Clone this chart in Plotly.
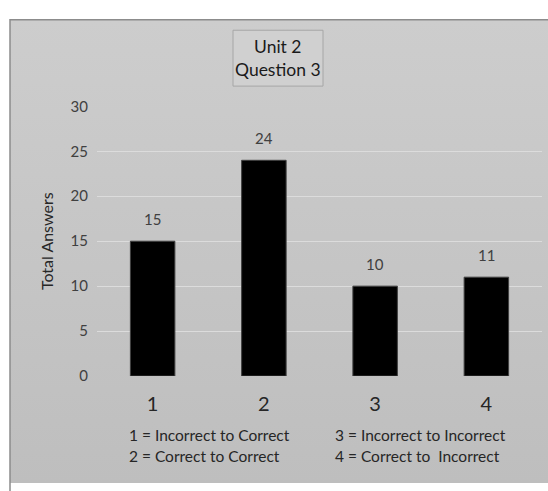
import base64
import plotly.graph_objects as go

categories = ["1", "2", "3", "4"]
values = [15, 24, 10, 11]
y_ticks = [0, 5, 10, 15, 20, 25, 30]
title_lines = ["Unit 2", "Question 3"]
key_left = ["1 = Incorrect to Correct", "2 = Correct to Correct"]
key_right = ["3 = Incorrect to Incorrect", "4 = Correct to  Incorrect"]

W, H = 548, 491
FONT = "Lato, 'Open Sans', sans-serif"

def px(x):
    return x / W

def py(y):
    return 1 - y / H

svg = ('<svg xmlns="http://www.w3.org/2000/svg" width="100" height="100" preserveAspectRatio="none">'
       '<defs><linearGradient id="g" x1="0" y1="0" x2="0" y2="1">'
       '<stop offset="0" stop-color="#cdcdcd"/><stop offset="1" stop-color="#bebebe"/>'
       '</linearGradient></defs><rect width="100" height="100" fill="url(#g)"/></svg>')
svg_uri = "data:image/svg+xml;base64," + base64.b64encode(svg.encode()).decode()

fig = go.Figure()
fig.add_trace(go.Bar(
    x=categories, y=values, width=0.4,
    marker=dict(color="#000000", line=dict(color="#404040", width=1)),
))

annotations = []
# value labels above bars (category index, data value)
for i, v in enumerate(values):
    annotations.append(dict(text=str(v), x=i, y=v, xref="x", yref="y", showarrow=False,
                            yanchor="middle", yshift=22,
                            font=dict(family=FONT, size=15, color="#404040")))
annotations.append(dict(
    text="<br>".join(title_lines), x=px(278), y=py(50), xref="paper", yref="paper",
    showarrow=False, font=dict(family=FONT, size=17.5, color="#1a1a1a"),
    xanchor="center", yanchor="middle",
))
for i, t in enumerate(key_left):
    annotations.append(dict(text=t, x=px(127), y=py(441 + 22 * i), xref="paper", yref="paper",
                            showarrow=False, xanchor="left", yanchor="middle",
                            font=dict(family=FONT, size=15.5, color="#262626")))
for i, t in enumerate(key_right):
    annotations.append(dict(text=t, x=px(333), y=py(441 + 22 * i), xref="paper", yref="paper",
                            showarrow=False, xanchor="left", yanchor="middle",
                            font=dict(family=FONT, size=15.5, color="#262626")))

shapes = [
    dict(type="rect", xref="paper", yref="paper", x0=px(10), x1=px(560), y0=py(10), y1=py(500),
         line=dict(color="#8c8c8c", width=1.5), fillcolor="rgba(0,0,0,0)", layer="below"),
    dict(type="rect", xref="paper", yref="paper", x0=px(233), x1=px(323), y0=py(21), y1=py(79),
         line=dict(color="#a6a6a6", width=1), fillcolor="#d0d0d0", layer="below"),
]

fig.update_layout(
    width=W, height=H,
    margin=dict(l=0, r=0, t=0, b=0),
    paper_bgcolor="white", plot_bgcolor="rgba(0,0,0,0)",
    showlegend=False,
    images=[dict(source=svg_uri, xref="paper", yref="paper", x=px(10), y=py(10),
                 sizex=px(548 - 10), sizey=1 - 10 / H, sizing="stretch", layer="below",
                 xanchor="left", yanchor="top")],
    shapes=shapes,
    annotations=annotations,
    bargap=0.6,
    xaxis=dict(domain=[px(97), px(542)], range=[-0.5, len(categories) - 0.5],
               showgrid=False, zeroline=False, showline=False,
               tickfont=dict(family=FONT, size=20, color="#262626"), ticks="", ticklen=0,
               type="category", ticklabelstandoff=14),
    yaxis=dict(domain=[111 / H, 391 / H], range=[0, 30], tickvals=y_ticks,
               showgrid=True, gridcolor="#dcdcdc", gridwidth=1, zeroline=False,
               showline=False, tickfont=dict(family=FONT, size=15, color="#404040"),
               ticks="", ticklabelstandoff=8,
               title=dict(text="Total Answers", font=dict(family=FONT, size=16, color="#262626"),
                          standoff=12)),
)

fig.write_html(
    "out.html",
    config={"displayModeBar": False},
    post_script="document.body.style.margin='0';document.documentElement.style.overflow='hidden';document.body.style.overflow='hidden';",
)
